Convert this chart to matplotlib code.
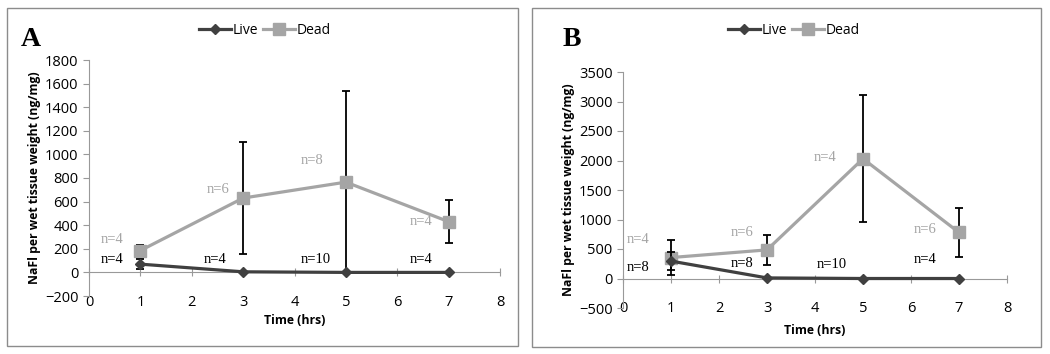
import matplotlib.pyplot as plt
from matplotlib.patches import Rectangle
from matplotlib.lines import Line2D

hours = [1, 3, 5, 7]

# panel A
live_a = [70, 5, 0, 0]
live_a_err = [45, 0, 0, 0]
dead_a = [185, 630, 765, 430]
dead_a_err = [50, 478, 770, 183]
n_live_a = ['n=4', 'n=4', 'n=10', 'n=4']
n_live_a_pos = [(0.44, 110), (2.45, 110), (4.42, 110), (6.47, 110)]
n_dead_a = ['n=4', 'n=6', 'n=8', 'n=4']
n_dead_a_pos = [(0.44, 280), (2.51, 703), (4.35, 950), (6.47, 435)]

# panel B
live_b = [295, 10, 0, 0]
live_b_err = [150, 0, 0, 0]
dead_b = [355, 485, 2030, 780]
dead_b_err = [290, 255, 1080, 415]
n_live_b = ['n=8', 'n=8', 'n=10', 'n=4']
n_live_b_pos = [(0.31, 187), (2.49, 260), (4.35, 232), (6.29, 328)]
n_dead_b = ['n=4', 'n=6', 'n=4', 'n=6']
n_dead_b_pos = [(0.31, 667), (2.49, 786), (4.21, 2053), (6.29, 837)]

LIVE_C = '#404040'
DEAD_C = '#a5a5a5'
SANS = 'Open Sans'
SERIF = 'Liberation Serif'

fig = plt.figure(figsize=(10.5, 3.54), dpi=100)

# panel borders
for x0, x1, y0, y1 in [(7, 518, 8, 346), (532, 1041, 8, 347)]:
    fig.patches.append(Rectangle((x0 / 1050, 1 - y1 / 354), (x1 - x0) / 1050, (y1 - y0) / 354,
                                 transform=fig.transFigure, fill=False,
                                 edgecolor='#8c8c8c', linewidth=1.0))


def panel(rect, live, live_err, dead, dead_err, ylim, ystep,
          nl, nl_pos, nd, nd_pos, letter, letter_x, xlabel_y, legend_x):
    ax = fig.add_axes(rect)
    ax.errorbar(hours, dead, yerr=dead_err, color=DEAD_C, ecolor='black', elinewidth=1.3,
                capsize=3, capthick=1.3, marker='s', markersize=9, linewidth=2.3,
                zorder=2)
    ax.errorbar(hours, live, yerr=live_err, color=LIVE_C, ecolor='black', elinewidth=1.3,
                capsize=3, capthick=1.3, marker='D', markersize=5.5, linewidth=2.3,
                zorder=3)
    for t, p in zip(nl, nl_pos):
        ax.text(p[0], p[1], t, color='black', fontsize=10.5, family=SERIF,
                ha='center', va='center')
    for t, p in zip(nd, nd_pos):
        ax.text(p[0], p[1], t, color=DEAD_C, fontsize=10.5, family=SERIF,
                ha='center', va='center')

    ax.set_xlim(0, 8)
    ax.set_ylim(*ylim)
    ax.set_xticks(range(0, 9))
    ax.set_yticks(range(ylim[0], ylim[1] + 1, ystep))
    for s in ['top', 'right']:
        ax.spines[s].set_visible(False)
    ax.spines['bottom'].set_position(('data', 0))
    ax.spines['bottom'].set_color('#999999')
    ax.spines['left'].set_color('#999999')
    ax.tick_params(axis='x', direction='inout', length=6, color='#999999', pad=13,
                   labelsize=10.5)
    ax.tick_params(axis='y', direction='out', length=4, color='#999999', labelsize=10.5)
    for lab in ax.get_xticklabels() + ax.get_yticklabels():
        lab.set_family(SANS)
    ax.set_ylabel('NaFl per wet tissue weight (ng/mg)', fontsize=8.8, fontweight='bold',
                  family=SANS, labelpad=3)
    fig.text((rect[0] + rect[0] + rect[2]) / 2, xlabel_y, 'Time (hrs)', fontsize=8.8,
             fontweight='bold', family=SANS, ha='center', va='center')

    handles = [Line2D([], [], color=LIVE_C, marker='D', markersize=5.5, linewidth=2.3),
               Line2D([], [], color=DEAD_C, marker='s', markersize=9, linewidth=2.3)]
    fig.legend(handles, ['Live', 'Dead'], loc='center', ncol=2,
               bbox_to_anchor=(legend_x, 1 - 30 / 354),
               frameon=False, prop={'family': SANS, 'size': 10},
               handlelength=2.3, columnspacing=0.4, handletextpad=0.1)
    fig.text(letter_x, 1 - 40 / 354, letter, fontsize=20, fontweight='bold',
             family=SERIF, ha='center', va='center')
    return ax


panel([89 / 1050, 1 - 296 / 354, 411 / 1050, 236 / 354],
      live_a, live_a_err, dead_a, dead_a_err, (-200, 1800), 200,
      n_live_a, n_live_a_pos, n_dead_a, n_dead_a_pos, 'A', 31 / 1050, 1 - 320 / 354,
      265 / 1050)
panel([623 / 1050, 1 - 308 / 354, 384 / 1050, 236 / 354],
      live_b, live_b_err, dead_b, dead_b_err, (-500, 3500), 500,
      n_live_b, n_live_b_pos, n_dead_b, n_dead_b_pos, 'B', 572 / 1050, 1 - 331 / 354,
      794 / 1050)

fig.savefig('out.png', dpi=100)
